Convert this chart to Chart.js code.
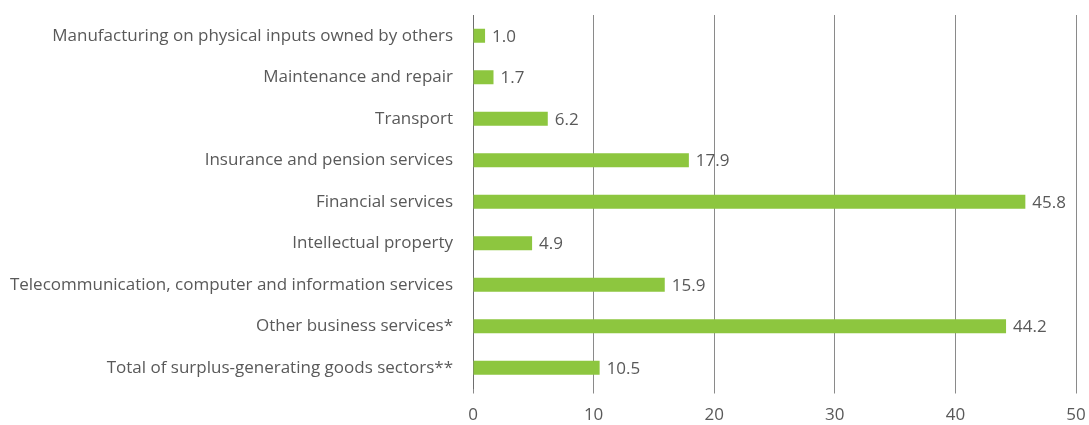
<!DOCTYPE html>
<html>
<head>
<meta charset="utf-8">
<script src="https://cdn.jsdelivr.net/npm/chart.js@4/dist/chart.umd.min.js"></script>
<style>
  html, body { margin: 0; padding: 0; background: #fff; }
  #wrap { width: 1089px; height: 425px; position: relative; }
</style>
</head>
<body>
<div id="wrap"><canvas id="chart"></canvas></div>
<script>
const categories = [
    'Manufacturing on physical inputs owned by others',
    'Maintenance and repair',
    'Transport',
    'Insurance and pension services',
    'Financial services',
    'Intellectual property',
    'Telecommunication, computer and information services',
    'Other business services*',
    'Total of surplus-generating goods sectors**'
];
const values = [1.0, 1.7, 6.2, 17.9, 45.8, 4.9, 15.9, 44.2, 10.5];
const xTicks = [0, 10, 20, 30, 40, 50];

const textColor = '#595959';
const fontSpec = { family: '"Open Sans", "Noto Sans", sans-serif', size: 17 };

// value written just right of each bar
const valueLabels = {
    id: 'valueLabels',
    afterDatasetsDraw(chart) {
        const ctx = chart.ctx;
        const meta = chart.getDatasetMeta(0);
        ctx.save();
        ctx.font = `${fontSpec.size}px ${fontSpec.family}`;
        ctx.fillStyle = textColor;
        ctx.textAlign = 'left';
        ctx.textBaseline = 'middle';
        meta.data.forEach((bar, i) => {
            ctx.fillText(values[i].toFixed(1), bar.x + 7, bar.y + 1);
        });
        ctx.restore();
    }
};

new Chart(document.getElementById('chart').getContext('2d'), {
    type: 'bar',
    data: {
        labels: categories,
        datasets: [{
            data: values,
            backgroundColor: '#8dc63f',
            borderWidth: 0,
            barPercentage: 0.68,
            categoryPercentage: 0.5
        }]
    },
    plugins: [valueLabels],
    options: {
        indexAxis: 'y',
        responsive: true,
        maintainAspectRatio: false,
        animation: false,
        layout: { padding: { top: 15, right: 13, bottom: 0, left: 0 } },
        plugins: { legend: { display: false }, tooltip: { enabled: false } },
        scales: {
            x: {
                min: 0,
                max: 50,
                afterBuildTicks: (s) => { s.ticks = xTicks.map(v => ({ value: v })); },
                afterFit: (s) => {
                    s.height = 36.5;
                    s.paddingLeft = 0;
                    s.paddingRight = 0;
                },
                grid: { color: '#8a8a8a', lineWidth: 1, drawTicks: true, tickLength: 5 },
                border: { display: false },
                ticks: { color: textColor, font: fontSpec, padding: 11 }
            },
            y: {
                afterFit: (s) => {
                    s.width = 473;
                    s.paddingTop = 0;
                    s.paddingBottom = 0;
                },
                grid: { display: false, drawTicks: false },
                border: { display: true, color: '#6e6e6e', width: 1 },
                ticks: { color: textColor, font: fontSpec, padding: 20 }
            }
        }
    }
});
</script>
</body>
</html>
